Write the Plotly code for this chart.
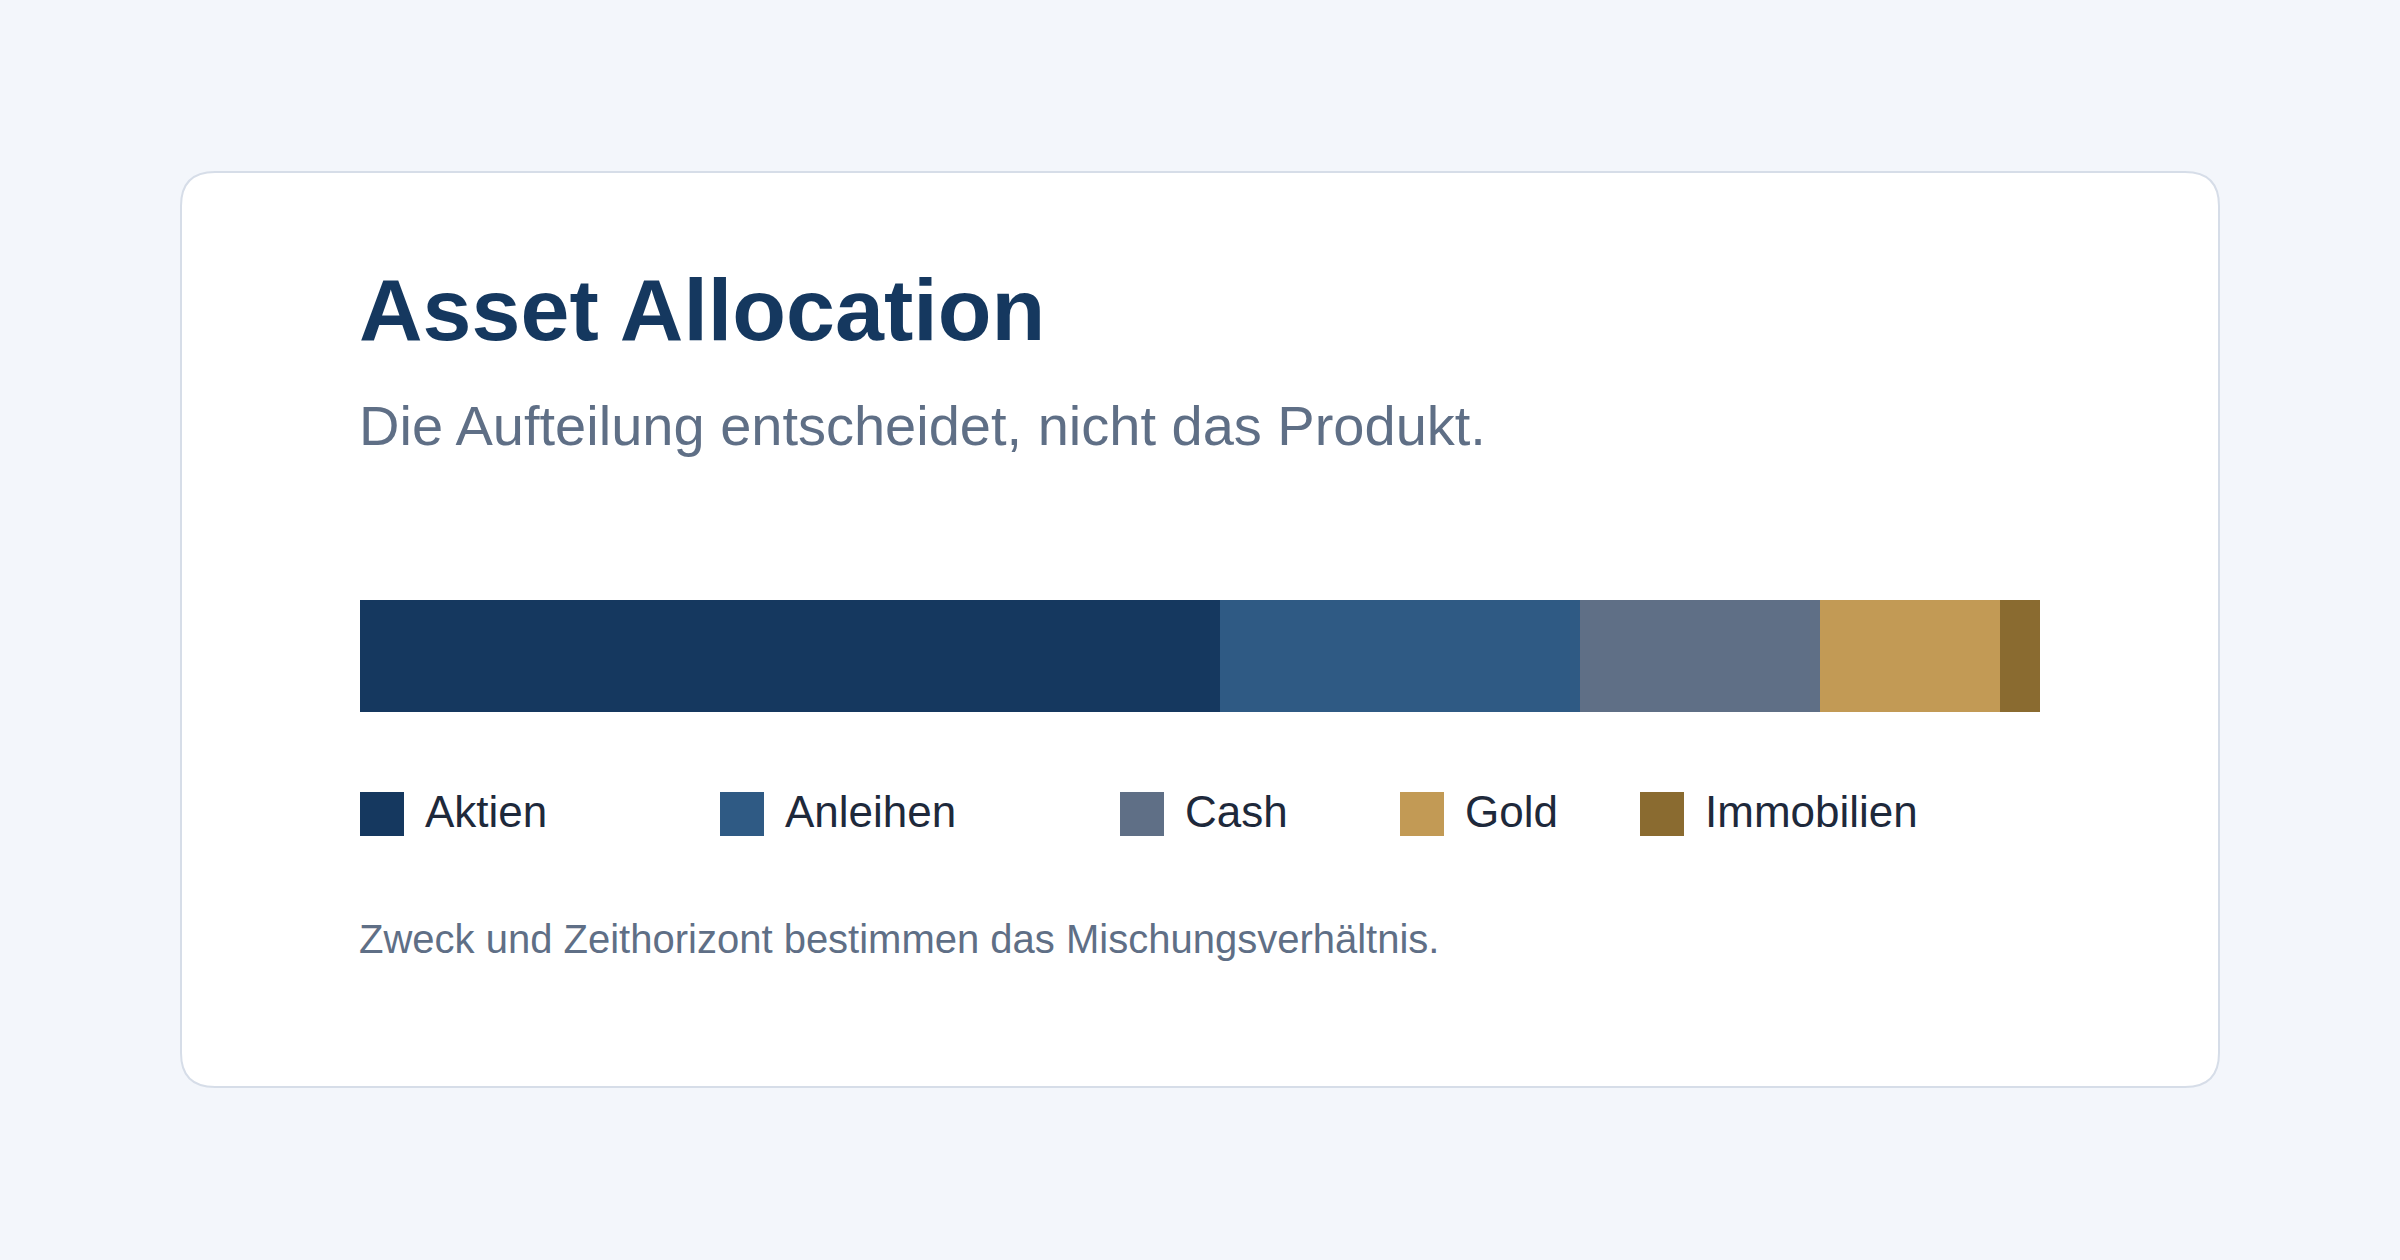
import plotly.graph_objects as go

# ---- data ----
categories = ["Aktien", "Anleihen", "Cash", "Gold", "Immobilien"]
shares = [43, 18, 12, 9, 2]

# ---- style ----
colors = ["#15385f", "#2f5a84", "#5f6f86", "#c29a55", "#8a6b30"]
W, H = 2400, 1260
FONT = "Liberation Sans, Arial, Helvetica, sans-serif"
TX = 3  # annotation inner padding compensation


def px(x):
    return x / W


def py(y):
    return 1 - y / H


fig = go.Figure()
for name, val, col in zip(categories, shares, colors):
    fig.add_trace(go.Bar(
        y=["mix"], x=[val], name=name, orientation="h",
        marker=dict(color=col, line=dict(width=0)),
        hoverinfo="skip", showlegend=False,
    ))

total = sum(shares)
bar_top, bar_bot = 600, 712

# card (rounded rectangle)
cx0, cy0, cx1, cy1, r = 181, 172, 2219, 1087, 34
rx, ry = r / W, r / H
path = (
    f"M {px(cx0)+rx},{py(cy0)} L {px(cx1)-rx},{py(cy0)} "
    f"Q {px(cx1)},{py(cy0)} {px(cx1)},{py(cy0)-ry} "
    f"L {px(cx1)},{py(cy1)+ry} "
    f"Q {px(cx1)},{py(cy1)} {px(cx1)-rx},{py(cy1)} "
    f"L {px(cx0)+rx},{py(cy1)} "
    f"Q {px(cx0)},{py(cy1)} {px(cx0)},{py(cy1)+ry} "
    f"L {px(cx0)},{py(cy0)-ry} "
    f"Q {px(cx0)},{py(cy0)} {px(cx0)+rx},{py(cy0)} Z"
)
shapes = [dict(type="path", xref="paper", yref="paper", path=path,
               fillcolor="#ffffff", line=dict(color="#d6dde8", width=2),
               layer="below")]

annotations = [
    dict(text="<b>Asset Allocation</b>", x=px(360 - TX), y=py(309), xref="paper", yref="paper",
         xanchor="left", yanchor="middle", showarrow=False,
         font=dict(family=FONT, size=88, color="#15385f")),
    dict(text="Die Aufteilung entscheidet, nicht das Produkt.", x=px(360 - TX), y=py(425),
         xref="paper", yref="paper", xanchor="left", yanchor="middle", showarrow=False,
         font=dict(family=FONT, size=56, color="#5f6f86")),
    dict(text="Zweck und Zeithorizont bestimmen das Mischungsverhältnis.", x=px(360 - TX), y=py(939),
         xref="paper", yref="paper", xanchor="left", yanchor="middle", showarrow=False,
         font=dict(family=FONT, size=40, color="#5f6f86")),
]

# custom legend
legend_x = [360, 720, 1120, 1400, 1640]
sq, ly0 = 44, 792
for name, col, lx in zip(categories, colors, legend_x):
    shapes.append(dict(type="rect", xref="paper", yref="paper",
                       x0=px(lx), x1=px(lx + sq), y0=py(ly0 + sq), y1=py(ly0),
                       fillcolor=col, line=dict(width=0)))
    annotations.append(dict(text=name, x=px(lx + 66 - TX), y=py(ly0 + sq / 2 - 3), xref="paper", yref="paper",
                            xanchor="left", yanchor="middle", showarrow=False,
                            font=dict(family=FONT, size=44, color="#1e293b")))

fig.update_layout(
    width=W, height=H, autosize=False,
    margin=dict(l=0, r=0, t=0, b=0),
    paper_bgcolor="#f3f6fb", plot_bgcolor="rgba(0,0,0,0)",
    barmode="stack", bargap=0,
    showlegend=False,
    xaxis=dict(domain=[px(360), px(2040)], range=[0, total], visible=False, fixedrange=True),
    yaxis=dict(domain=[py(bar_bot), py(bar_top)], visible=False, fixedrange=True),
    shapes=shapes, annotations=annotations,
)

fig.write_html("out.html", config={"displayModeBar": False})
